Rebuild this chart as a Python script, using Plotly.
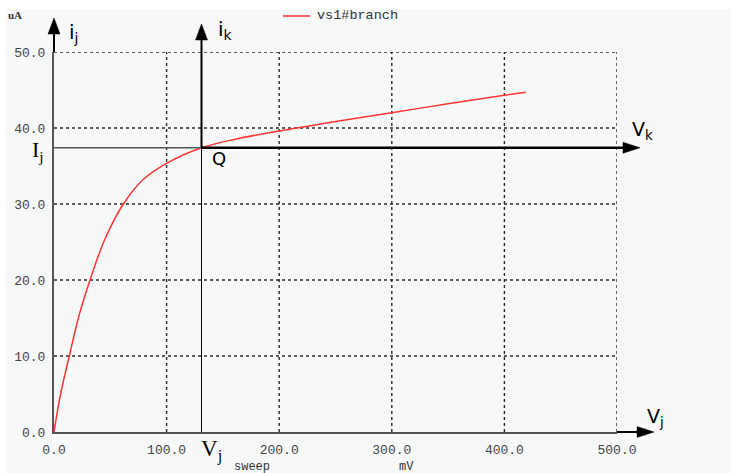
import plotly.graph_objects as go

# ---- data ----
sweep_mv = [0, 6, 13.6, 22, 32, 45, 61.6, 79, 100, 131, 160, 200, 250, 300, 350, 400, 419]
branch_ua = [0, 5.1, 10, 15.2, 20, 25.3, 30, 33.2, 35.35, 37.4, 38.5, 39.6, 40.85, 42.0, 43.2, 44.3, 44.7]
x_ticks = [0, 100, 200, 300, 400, 500]
x_tick_labels = ["0.0", "100.0", "200.0", "300.0", "400.0", "500.0"]
y_ticks = [0, 10, 20, 30, 40, 50]
y_tick_labels = ["0.0", "10.0", "20.0", "30.0", "40.0", "50.0"]
q_mv = 131.0   # operating point V_j
q_ua = 37.4    # operating point I_j
X_MAX, Y_MAX = 500, 50

W, H = 731, 473
L, R, T, B = 54, 114, 52, 41
PW, PH = W - L - R, H - T - B

def px(p):  # pixel x -> paper x
    return (p - L) / PW

def py(p):  # pixel y -> paper y
    return (H - B - p) / PH

BG = "#f7f8f8"
MONO = "Liberation Mono"

fig = go.Figure()
fig.add_trace(go.Scatter(x=sweep_mv, y=branch_ua, mode="lines", line=dict(color="#ff3535", width=1.5, shape="spline"),
                         name="vs1#branch", showlegend=False, hoverinfo="skip"))

shapes = []
# background region
shapes.append(dict(type="rect", xref="paper", yref="paper", x0=px(6), x1=px(W), y0=py(H), y1=py(9),
                   fillcolor=BG, line=dict(width=0), layer="below"))
# grid
for v in x_ticks[1:]:
    shapes.append(dict(type="line", xref="x", yref="y", x0=v, x1=v, y0=0, y1=Y_MAX,
                       line=dict(color="#2a2a2a", width=1.4, dash="3px,3px"), layer="below"))
for v in y_ticks[1:]:
    shapes.append(dict(type="line", xref="x", yref="y", x0=0, x1=X_MAX, y0=v, y1=v,
                       line=dict(color="#2a2a2a", width=1.4, dash="3px,3px"), layer="below"))

# operating point lines
shapes.append(dict(type="line", xref="x", yref="y", x0=0, x1=q_mv, y0=q_ua, y1=q_ua, line=dict(color="#555", width=1.5)))
shapes.append(dict(type="line", xref="x", yref="y", x0=q_mv, x1=q_mv, y0=0, y1=q_ua, line=dict(color="#000", width=1)))

qx, qy = q_mv / X_MAX, q_ua / Y_MAX
qpx = L + qx * PW
qpy = H - B - qy * PH

def harrow(y_pix, x_from_paper, base_pix, tip_pix, half=5.5, width=2):
    shapes.append(dict(type="line", xref="paper", yref="paper", x0=x_from_paper, x1=px(base_pix + 1),
                       y0=py(y_pix), y1=py(y_pix), line=dict(color="#000", width=width)))
    shapes.append(dict(type="path", xref="paper", yref="paper",
                       path=f"M {px(base_pix)},{py(y_pix - half)} L {px(tip_pix)},{py(y_pix)} L {px(base_pix)},{py(y_pix + half)} Z",
                       fillcolor="#000", line=dict(color="#000", width=0.5)))

def varrow(x_pix, y_from_paper, base_pix, tip_pix, half=6, width=2):
    shapes.append(dict(type="line", xref="paper", yref="paper", x0=px(x_pix), x1=px(x_pix),
                       y0=y_from_paper, y1=py(base_pix - 1), line=dict(color="#000", width=width)))
    shapes.append(dict(type="path", xref="paper", yref="paper",
                       path=f"M {px(x_pix - half)},{py(base_pix)} L {px(x_pix)},{py(tip_pix)} L {px(x_pix + half)},{py(base_pix)} Z",
                       fillcolor="#000", line=dict(color="#000", width=0.5)))

# axis arrows
varrow(L, 1.0, 34, 18)
harrow(H - B, 1.0, 637, 654)
# operating point arrows
harrow(qpy, qx, 623, 640, width=2.5)
varrow(qpx, qy, 40, 24)

# legend sample
shapes.append(dict(type="line", xref="paper", yref="paper", x0=px(283), x1=px(310), y0=py(16), y1=py(16),
                   line=dict(color="#ff3535", width=1.5)))

ann = []
def txt(text, x_pix, y_pix, size, family, color="#000", xa="center", ya="middle"):
    ann.append(dict(text=text, xref="paper", yref="paper", x=px(x_pix), y=py(y_pix), showarrow=False,
                    xanchor=xa, yanchor=ya, font=dict(size=size, family=family, color=color)))

txt("vs1#branch", 315, 16, 13.5, MONO, "#333", xa="left")
txt("<b>uA</b>", 6, 15, 11, "Liberation Serif", "#333", xa="left")
txt("i<sub>j</sub>", 67, 33, 20, "DejaVu Sans", xa="left")
txt("i<sub>k</sub>", 216, 30, 20, "DejaVu Sans", xa="left")
txt("V<sub>k</sub>", 630, 130, 19, "DejaVu Sans", xa="left")
txt("V<sub>j</sub>", 645, 417, 19, "DejaVu Sans", xa="left")
txt("I<sub>j</sub>", 30, 151, 22, "Liberation Serif", xa="left")
txt("V<sub>j</sub>", 199, 450, 23, "Liberation Serif", xa="left")
txt("Q", 210, 158, 18, "DejaVu Sans", xa="left")
txt("sweep", 252, 467, 12, MONO, "#333")
txt("mV", 406, 467, 12, MONO, "#333")

axis_font = dict(family=MONO, size=13, color="#444")
fig.update_layout(
    width=W, height=H, autosize=False,
    margin=dict(l=L, r=R, t=T, b=B, pad=0),
    paper_bgcolor="white", plot_bgcolor=BG,
    showlegend=False,
    shapes=shapes, annotations=ann,
    xaxis=dict(range=[0, X_MAX], tickvals=x_ticks, ticktext=x_tick_labels, showgrid=False, zeroline=False,
               showline=True, linecolor="#555", linewidth=2, ticks="", tickfont=axis_font, automargin=False,
               ticklabelstandoff=4),
    yaxis=dict(range=[0, Y_MAX], tickvals=y_ticks, ticktext=y_tick_labels, showgrid=False, zeroline=False,
               showline=True, linecolor="#555", linewidth=2, ticks="", tickfont=axis_font, automargin=False,
               ticklabelstandoff=4),
)

fig.write_html("out.html", config={"displayModeBar": False},
               post_script="document.body.style.margin='0';")
